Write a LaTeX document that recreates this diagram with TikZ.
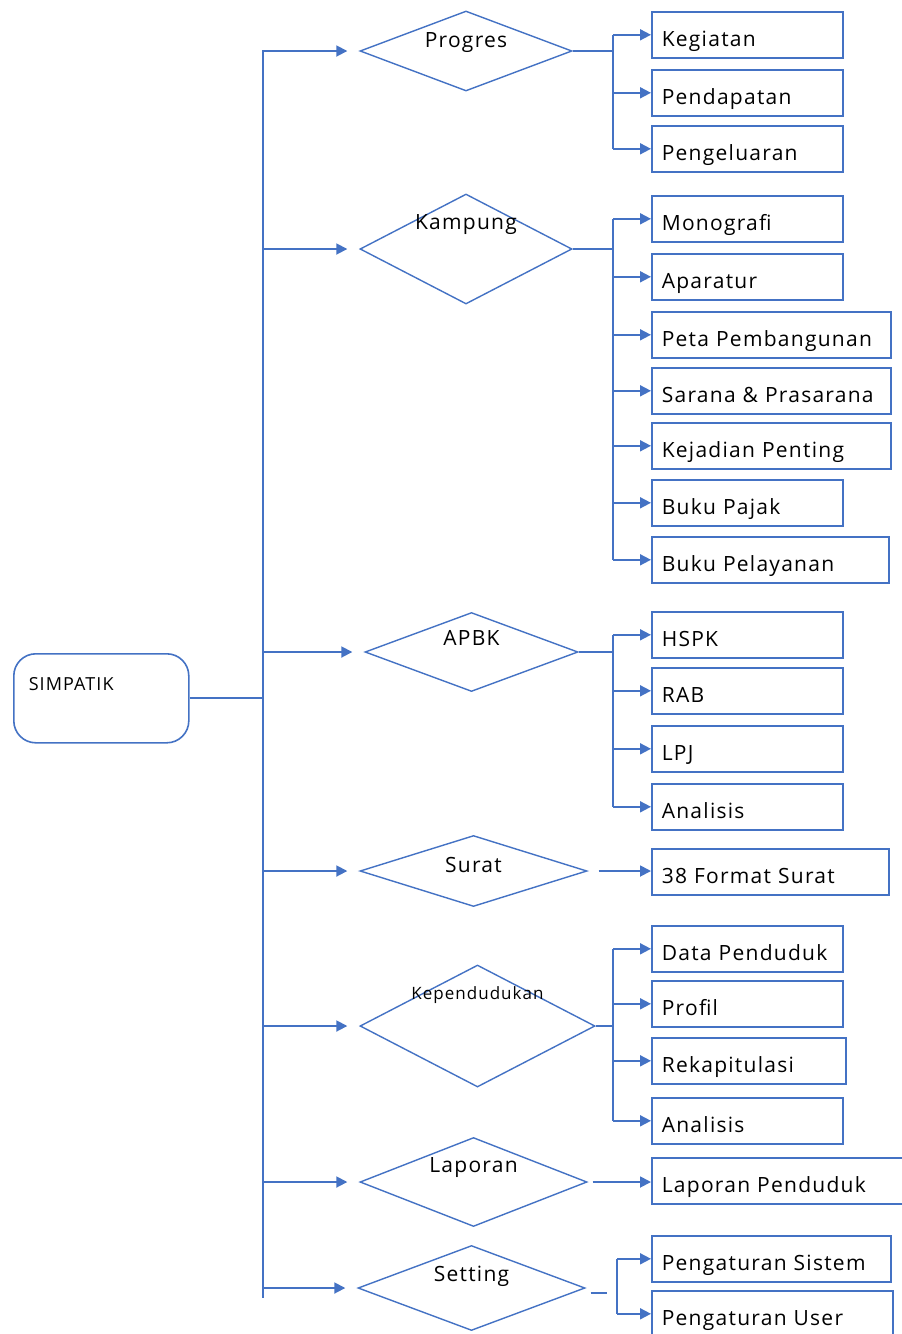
\documentclass[tikz,border=0pt]{standalone}
\usepackage{fontspec}
\setmainfont[LetterSpace=6]{Open Sans}
\usetikzlibrary{shapes.geometric,arrows.meta,positioning}
\definecolor{linkblue}{HTML}{4472C4}
\tikzset{
	link/.style={draw=linkblue, line width=1.8pt},
	arr/.style={link, -{Triangle[width=11pt,length=11pt]}},
	choice/.style={diamond, draw=linkblue, line width=1.4pt, inner sep=0pt},
	dlabel/.style={font=\fontsize{21}{21}\selectfont},
	leaf/.style={draw=linkblue, line width=1.6pt, anchor=north west, inner xsep=10pt, inner ysep=0pt,
		minimum height=46pt, text width=#1, align=left, text height=30pt, text depth=6pt,
		font=\fontsize{21}{21}\selectfont},
	root/.style={draw=linkblue, line width=1.6pt, rounded corners=22pt, anchor=north west,
		minimum width=175pt, minimum height=89pt, inner xsep=15pt, text width=145pt, align=left,
		text height=0pt, text depth=15pt, font=\fontsize{18}{18}\selectfont},
}

\begin{document}
\begin{tikzpicture}[x=1pt, y=-1pt]
	\useasboundingbox[fill=white] (0,0) rectangle (902,1334);

	% root and trunk
	\node[root] (simpatik) at (13,653) {SIMPATIK};
	\coordinate (ttop) at (263,50);
	\coordinate (tbot) at (263,1298);
	\coordinate (bx) at (613,0);
	\coordinate (sx) at (617,0);
	\draw[link] (ttop) -- (tbot);
	\draw[link] (simpatik.east) -- (simpatik.east -| ttop);

	% menu
	\node[choice, minimum width=212pt, minimum height=80pt, label={[dlabel, yshift=8pt]center:Progres}] (progres) at (466,51) {};
	\node[choice, minimum width=212pt, minimum height=110pt, label={[dlabel, yshift=24pt]center:Kampung}] (kampung) at (466,249) {};
	\node[choice, minimum width=213pt, minimum height=79pt, label={[dlabel, yshift=14pt]center:APBK}] (apbk) at (471.5,652) {};
	\node[choice, minimum width=227pt, minimum height=71pt, label={[dlabel, yshift=6pt]center:Surat}] (surat) at (473.5,871) {};
	\node[choice, minimum width=235pt, minimum height=122pt, label={[dlabel, font=\fontsize{17}{17}\selectfont, yshift=31pt]center:Kependudukan}] (kependudukan) at (477.5,1026) {};
	\node[choice, minimum width=227pt, minimum height=89pt, label={[dlabel, yshift=14pt]center:Laporan}] (laporan) at (473.5,1182) {};
	\node[choice, minimum width=227pt, minimum height=85pt, label={[dlabel, yshift=12pt]center:Setting}] (setting) at (471.5,1288) {};

	\foreach \m in {progres,kampung,apbk,surat,kependudukan,laporan,setting}
		\draw[arr, shorten >=12pt] (\m.west -| ttop) -- (\m.west);

	% sub menu
	\node[leaf=171pt] (kegiatan) at (651,11) {Kegiatan};
	\node[leaf=171pt] (pendapatan) at (651,69) {Pendapatan};
	\node[leaf=171pt] (pengeluaran) at (651,125) {Pengeluaran};

	\node[leaf=171pt] (monografi) at (651,195) {Monografi};
	\node[leaf=171pt] (aparatur) at (651,253) {Aparatur};
	\node[leaf=219pt] (peta) at (651,311) {Peta Pembangunan};
	\node[leaf=219pt] (sarana) at (651,367) {Sarana \& Prasarana};
	\node[leaf=219pt] (kejadian) at (651,422) {Kejadian Penting};
	\node[leaf=171pt] (pajak) at (651,479) {Buku Pajak};
	\node[leaf=217pt] (pelayanan) at (651,536) {Buku Pelayanan};

	\node[leaf=171pt] (hspk) at (651,611) {HSPK};
	\node[leaf=171pt] (rab) at (651,667) {RAB};
	\node[leaf=171pt] (lpj) at (651,725) {LPJ};
	\node[leaf=171pt] (analisis) at (651,783) {Analisis};

	\node[leaf=217pt] (format) at (651,848) {38 Format Surat};

	\node[leaf=171pt] (penduduk) at (651,925) {Data Penduduk};
	\node[leaf=171pt] (profil) at (651,980) {Profil};
	\node[leaf=174pt] (rekap) at (651,1037) {Rekapitulasi};
	\node[leaf=171pt] (analisisdua) at (651,1097) {Analisis};

	\node[leaf=240pt] (lappenduduk) at (651,1157) {Laporan Penduduk};

	\node[leaf=219pt] (sistem) at (651,1235) {Pengaturan Sistem};
	\node[leaf=221pt] (user) at (651,1290) {Pengaturan User};

	% branches
	\draw[link] (progres.east) -- (progres.east -| bx);
	\draw[link] (kegiatan.west -| bx) -- (pengeluaran.west -| bx);
	\foreach \b in {kegiatan,pendapatan,pengeluaran}
		\draw[arr] (\b.west -| bx) -- (\b.west);

	\draw[link] (kampung.east) -- (kampung.east -| bx);
	\draw[link] (monografi.west -| bx) -- (pelayanan.west -| bx);
	\foreach \b in {monografi,aparatur,peta,sarana,kejadian,pajak,pelayanan}
		\draw[arr] (\b.west -| bx) -- (\b.west);

	\draw[link] (apbk.east) -- (apbk.east -| bx);
	\draw[link] (hspk.west -| bx) -- (analisis.west -| bx);
	\foreach \b in {hspk,rab,lpj,analisis}
		\draw[arr] (\b.west -| bx) -- (\b.west);

	\draw[arr, shorten <=11pt] (surat.east) -- (surat.east -| format.west);

	\draw[link] (kependudukan.east) -- (kependudukan.east -| bx);
	\draw[link] (penduduk.west -| bx) -- (analisisdua.west -| bx);
	\foreach \b in {penduduk,profil,rekap,analisisdua}
		\draw[arr] (\b.west -| bx) -- (\b.west);

	\draw[arr, shorten <=5pt] (laporan.east) -- (laporan.east -| lappenduduk.west);

	\draw[link] ([xshift=5pt, yshift=-5pt]setting.east) -- ++(16,0);
	\draw[link] (sistem.west -| sx) -- (user.west -| sx);
	\foreach \b in {sistem,user}
		\draw[arr] (\b.west -| sx) -- (\b.west);
\end{tikzpicture}
\end{document}
